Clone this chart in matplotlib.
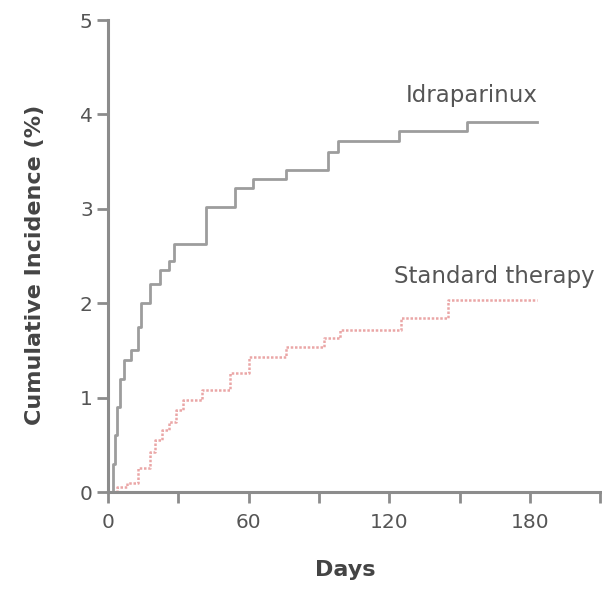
import matplotlib.pyplot as plt

# Idraparinux (solid gray step curve)
idra_days = [0, 2, 3, 4, 5, 7, 10, 13, 14, 18, 22, 26, 28, 42, 54, 62, 76, 94, 98, 124, 153, 183]
idra_vals = [0, 0.3, 0.6, 0.9, 1.2, 1.4, 1.5, 1.75, 2.0, 2.2, 2.35, 2.45, 2.63, 3.02, 3.22, 3.32, 3.41, 3.6, 3.72, 3.82, 3.92, 3.92]

# Standard therapy (pink dotted step curve)
std_days = [0, 4, 8, 13, 18, 20, 23, 26, 29, 32, 40, 52, 60, 76, 92, 99, 125, 145, 183]
std_vals = [0, 0.05, 0.1, 0.25, 0.42, 0.55, 0.66, 0.74, 0.87, 0.97, 1.08, 1.26, 1.43, 1.54, 1.63, 1.72, 1.84, 2.03, 2.03]

x_ticks = [0, 30, 60, 90, 120, 150, 180, 210]
x_labels = ["0", "", "60", "", "120", "", "180", ""]
y_ticks = [0, 1, 2, 3, 4, 5]

GRAY = "#8c8c8c"
TXT = "#555555"

fig = plt.figure(figsize=(6.02, 5.91), dpi=100)
ax = fig.add_axes([0.1794, 0.1675, 0.8176, 0.7986])

ax.plot(idra_days, idra_vals, drawstyle="steps-post", color="#9d9d9d", lw=2.0)
ax.plot(std_days, std_vals, drawstyle="steps-post", color="#eaa6a6", lw=1.8,
        linestyle=(0, (1.0, 0.7)))

ax.text(155, 4.2, "Idraparinux", ha="center", va="center", fontsize=16.5, color=TXT)
ax.text(165, 2.28, "Standard therapy", ha="center", va="center", fontsize=16.5, color=TXT)

ax.set_xlim(0, 210)
ax.set_ylim(0, 5)
ax.set_xticks(x_ticks)
ax.set_xticklabels(x_labels)
ax.set_yticks(y_ticks)

for s in ["top", "right"]:
    ax.spines[s].set_visible(False)
for s in ["left", "bottom"]:
    ax.spines[s].set_color(GRAY)
    ax.spines[s].set_linewidth(2.2)

ax.tick_params(axis="both", colors=GRAY, width=2, length=8, labelsize=14.5,
               labelcolor=TXT)
ax.tick_params(axis="y", pad=3)
ax.tick_params(axis="x", pad=7)

ax.set_xlabel("Days", fontsize=16, fontweight="bold", color="#444444")
ax.set_ylabel("Cumulative Incidence (%)", fontsize=16, fontweight="bold",
              color="#444444")
ax.xaxis.set_label_coords(0.482, -0.145)
ax.yaxis.set_label_coords(-0.128, 0.481)

fig.savefig("out.png", dpi=100)
